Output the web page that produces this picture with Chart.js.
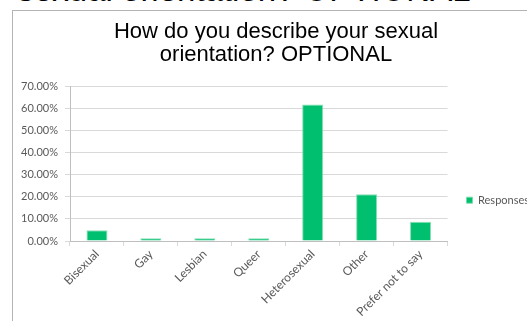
<!DOCTYPE html>
<html>
<head>
<meta charset="utf-8">
<script src="https://cdn.jsdelivr.net/npm/chart.js@4.4.1/dist/chart.umd.min.js"></script>
<style>
  html, body { margin: 0; padding: 0; background: #fff; overflow: hidden; }
  body { width: 527px; height: 321px; position: relative; }
  #heading {
    position: absolute; left: 0; top: -27px; width: 488px;
    font: 33px "Liberation Sans", Arial, sans-serif; line-height: 1;
    text-align: center; color: #000; white-space: nowrap;
  }
  #box {
    position: absolute; left: 12px; top: 10px; width: 600px; height: 400px;
    border-left: 1px solid #b4b4b4; border-top: 1px solid #b4b4b4;
  }
  #wrap { position: absolute; left: 0; top: 0; width: 526px; height: 310px; }
</style>
</head>
<body>
<div id="heading">sexual orientation? OPTIONAL</div>
<div id="box">
  <div id="wrap"><canvas id="myChart"></canvas></div>
</div>
<script>
"use strict";

const categories = ['Bisexual', 'Gay', 'Lesbian', 'Queer', 'Heterosexual', 'Other', 'Prefer not to say'];
const responses = [4.9, 1.2, 1.2, 1.2, 61.7, 21.1, 8.7];
const titleLines = ['How do you describe your sexual', 'orientation? OPTIONAL'];
const seriesLabel = 'Responses';

const green = 'rgb(0, 191, 111)';
const tickFont = { family: 'Lato', size: 11 };
const catFont = { family: 'Lato', size: 12 };

const ctx = document.getElementById('myChart').getContext('2d');

const chart = new Chart(ctx, {
  type: 'bar',
  data: {
    labels: categories,
    datasets: [{
      label: seriesLabel,
      data: responses,
      backgroundColor: green,
      borderColor: 'rgba(120, 220, 170, 0.9)',
      borderWidth: 1,
      categoryPercentage: 1,
      barPercentage: 0.39
    }]
  },
  options: {
    responsive: true,
    maintainAspectRatio: false,
    animation: false,
    plugins: {
      title: {
        display: true,
        text: titleLines,
        color: '#000',
        font: { family: 'Liberation Sans', size: 22, weight: 'normal', lineHeight: 1.05 },
        padding: { top: 9, bottom: 20 }
      },
      legend: {
        position: 'right',
        align: 'center',
        maxWidth: 92,
        // empty title only pushes the single item down, like the original
        title: { display: true, text: '', padding: { top: 27, bottom: 27 } },
        labels: {
          boxWidth: 6,
          boxHeight: 6,
          padding: 19,
          color: '#595959',
          font: tickFont
        }
      },
      tooltip: { enabled: false }
    },
    scales: {
      x: {
        afterFit: scale => { scale.height = 80; },
        grid: { display: true, drawOnChartArea: false, offset: true, color: '#d9d9d9', tickLength: 5 },
        border: { color: '#bfbfbf' },
        ticks: { color: '#595959', font: catFont, maxRotation: 45, minRotation: 45, padding: 1 }
      },
      y: {
        min: 0,
        max: 70,
        afterFit: scale => { scale.width = 57; },
        grid: { color: '#d9d9d9', tickLength: 5 },
        border: { color: '#bfbfbf' },
        ticks: {
          stepSize: 10,
          color: '#595959',
          font: tickFont,
          padding: 7,
          callback: value => value.toFixed(2) + '%'
        }
      }
    }
  }
});
</script>
</body>
</html>
